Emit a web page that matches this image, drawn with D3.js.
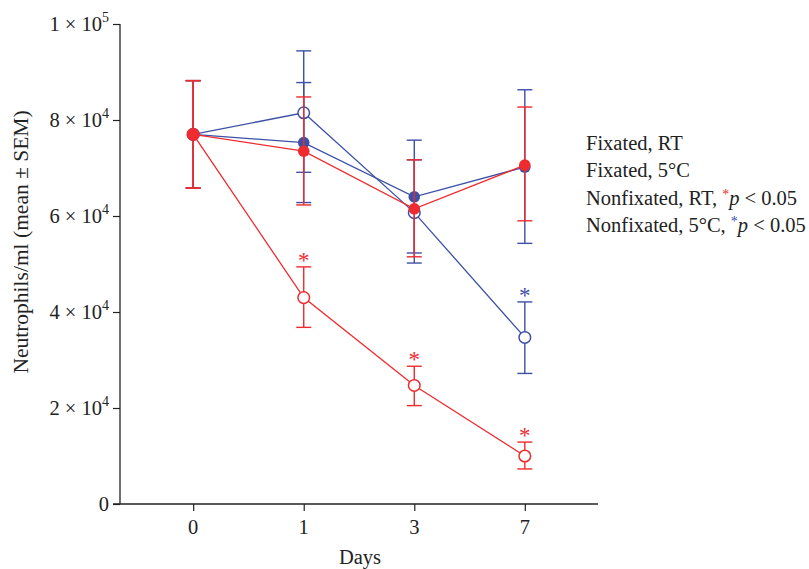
<!DOCTYPE html>
<html>
<head>
<meta charset="utf-8">
<script src="https://cdn.jsdelivr.net/npm/d3@7"></script>
<style>
  body { margin: 0; background: #fff; }
  svg text { font-family: "Liberation Serif", "DejaVu Serif", serif; fill: #222; }
</style>
</head>
<body>
<svg id="chart" width="809" height="569"></svg>
<script>
// ---- data ----
const days = ["0", "1", "3", "7"];
const yTickValues = [0, 20000, 40000, 60000, 80000, 100000];
const yTickMantissa = ["0", "2", "4", "6", "8", "1"];
const yTickExponent = ["", "4", "4", "4", "4", "5"];

const fix5Mean = [77000, 75300, 64000, 70200];
const fix5Hi   = [88200, 87800, 75800, 86300];
const fix5Lo   = [65800, 62800, 52300, 54300];

const non5Mean = [77000, 81500, 60700, 34700];
const non5Hi   = [88200, 94400, 71700, 42100];
const non5Lo   = [65800, 69100, 50200, 27200];
const non5Sig  = [false, false, false, true];

const nonRTMean = [77000, 43000, 24700, 10000];
const nonRTHi   = [88200, 49400, 28700, 12900];
const nonRTLo   = [65800, 36800, 20500, 7300];
const nonRTSig  = [false, true, true, true];

const fixRTMean = [77000, 73500, 61500, 70600];
const fixRTHi   = [88200, 84800, 71700, 82700];
const fixRTLo   = [65800, 62300, 51500, 59000];

const legendLabels = ["Fixated, RT", "Fixated, 5°C", "Nonfixated, RT, ", "Nonfixated, 5°C, "];

const RED = "#ee2b2f";
const BLUE = "#3c50a5";

// draw order: blue open, blue filled, red open, red filled
const series = [
  { mean: non5Mean, hi: non5Hi, lo: non5Lo, sig: non5Sig, color: BLUE, open: true },
  { mean: fix5Mean, hi: fix5Hi, lo: fix5Lo, sig: null, color: BLUE, open: false },
  { mean: nonRTMean, hi: nonRTHi, lo: nonRTLo, sig: nonRTSig, color: RED, open: true },
  { mean: fixRTMean, hi: fixRTHi, lo: fixRTLo, sig: null, color: RED, open: false }
];

// ---- layout ----
const svg = d3.select("#chart");
const pLeft = 120, pRight = 598, pTop = 24, pBottom = 504;

const x = d3.scalePoint().domain(days).range([pLeft, pRight]).padding(0.662);
const y = d3.scaleLinear().domain([0, 100000]).range([pBottom, pTop]);

// axes
const axisColor = "#222";
const yAxis = svg.append("g").attr("transform", `translate(${pLeft},0)`)
  .call(d3.axisLeft(y).tickValues(yTickValues).tickSize(7).tickFormat(""));
const xAxis = svg.append("g").attr("transform", `translate(0,${pBottom})`)
  .call(d3.axisBottom(x).tickSize(7).tickFormat(""));
[yAxis, xAxis].forEach(g => {
  g.select(".domain").remove();
  g.selectAll(".tick line").attr("stroke", axisColor).attr("stroke-width", 1.2);
});
svg.append("line").attr("x1", pLeft).attr("x2", pLeft).attr("y1", pTop).attr("y2", pBottom)
  .attr("stroke", axisColor).attr("stroke-width", 1.3);
svg.append("line").attr("x1", pLeft - 7).attr("x2", pRight).attr("y1", pBottom).attr("y2", pBottom)
  .attr("stroke", axisColor).attr("stroke-width", 1.3);

// y tick labels
yTickValues.forEach((v, i) => {
  const t = svg.append("text")
    .attr("x", 109).attr("y", y(v) + 7)
    .attr("text-anchor", "end").attr("font-size", 20.5);
  if (yTickExponent[i] === "") {
    t.text(yTickMantissa[i]);
  } else {
    t.append("tspan").text(yTickMantissa[i] + " × 10");
    t.append("tspan").attr("font-size", 14).attr("dy", -9).text(yTickExponent[i]);
  }
});

// x tick labels
days.forEach(d => {
  svg.append("text").attr("x", x(d)).attr("y", 534)
    .attr("text-anchor", "middle").attr("font-size", 20.5).text(d);
});

// axis titles
svg.append("text").attr("x", 360).attr("y", 564)
  .attr("text-anchor", "middle").attr("font-size", 20.5).text("Days");
svg.append("text")
  .attr("transform", `translate(28,242) rotate(-90)`)
  .attr("text-anchor", "middle").attr("font-size", 21.5)
  .text("Neutrophils/ml (mean ± SEM)");

// series
const line = d3.line().x((d, i) => x(days[i])).y(d => y(d));
const capW = 7.5;
series.forEach(s => {
  const g = svg.append("g");
  g.append("path").datum(s.mean).attr("d", line)
    .attr("fill", "none").attr("stroke", s.color).attr("stroke-width", 1.3);
  days.forEach((d, i) => {
    const cx = x(d);
    g.append("line").attr("x1", cx).attr("x2", cx).attr("y1", y(s.hi[i])).attr("y2", y(s.lo[i]))
      .attr("stroke", s.color).attr("stroke-width", 1.4);
    [s.hi[i], s.lo[i]].forEach(v => {
      g.append("line").attr("x1", cx - capW).attr("x2", cx + capW).attr("y1", y(v)).attr("y2", y(v))
        .attr("stroke", s.color).attr("stroke-width", 1.4);
    });
    if (s.open) {
      g.append("circle").attr("cx", cx).attr("cy", y(s.mean[i])).attr("r", 5.8)
        .attr("fill", "#fff").attr("stroke", s.color).attr("stroke-width", 1.5);
    } else {
      g.append("circle").attr("cx", cx).attr("cy", y(s.mean[i])).attr("r", 5.8)
        .attr("fill", s.color);
    }
    if (s.sig && s.sig[i]) {
      g.append("text").attr("x", cx).attr("y", y(s.hi[i]) + 1)
        .attr("text-anchor", "middle").attr("font-size", 23)
        .style("fill", s.color).text("*");
    }
  });
});

// legend
const legX = 586, legY0 = 150, legDy = 27.4;
legendLabels.forEach((lab, i) => {
  const t = svg.append("text").attr("x", legX).attr("y", legY0 + i * legDy).attr("font-size", 20.5);
  t.append("tspan").text(lab);
  if (i >= 2) {
    t.append("tspan").attr("font-size", 14).attr("dy", -6)
      .style("fill", i === 2 ? RED : BLUE).text("*");
    t.append("tspan").attr("dy", 6).attr("font-style", "italic").text("p");
    t.append("tspan").text(" < 0.05");
  }
});
</script>
</body>
</html>
